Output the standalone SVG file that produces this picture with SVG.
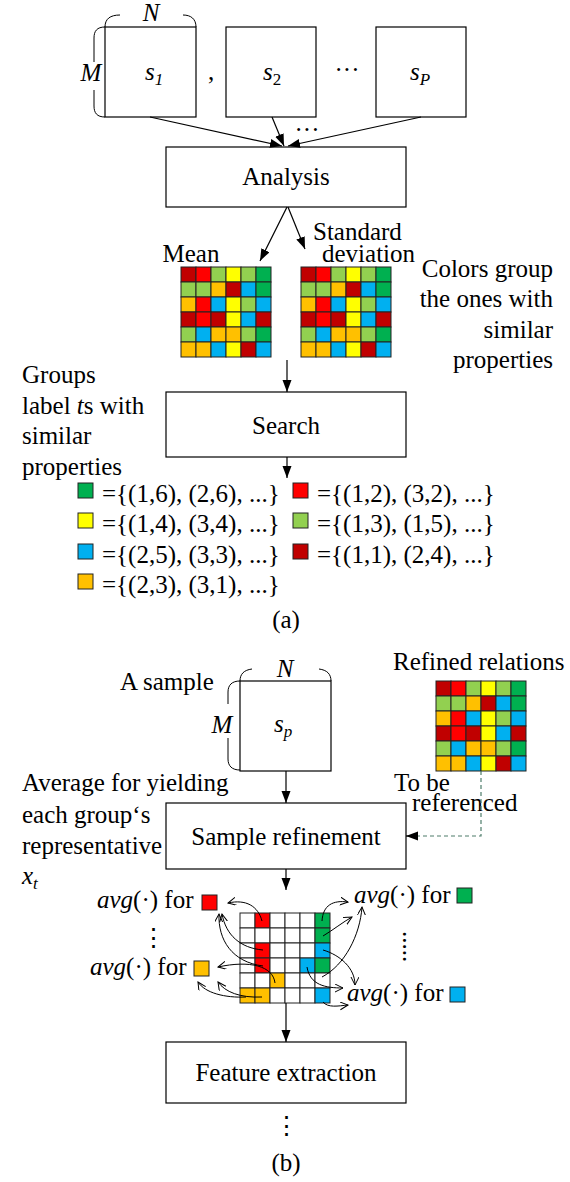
<svg xmlns="http://www.w3.org/2000/svg" xmlns:xlink="http://www.w3.org/1999/xlink" width="570" height="1182" viewBox="0 0 570 1182" font-family="'Liberation Serif', 'DejaVu Serif', serif">
<style>
text{font-family:"Liberation Serif","DejaVu Serif",serif;font-size:25px;fill:#000}
.it{font-style:italic}
.sub{font-size:17px}
.box{fill:#fff;stroke:#000;stroke-width:1.2}
.ln{fill:none;stroke:#000;stroke-width:1.2}
.cv{fill:none;stroke:#000;stroke-width:1}
.cell{stroke:#222;stroke-width:1}
.w{fill:#fff}.dr{fill:#C00000}.r{fill:#FF0000}.lg{fill:#92D050}.y{fill:#FFFF00}.g{fill:#00B050}.o{fill:#FFC000}.b{fill:#00B0F0}
.dash{fill:none;stroke:#4E7D6B;stroke-width:1.2;stroke-dasharray:4,3}
.c{text-anchor:middle}
.e{text-anchor:end}
</style>
<defs>
<marker id="ah" markerUnits="userSpaceOnUse" markerWidth="13" markerHeight="10" refX="12" refY="4.5" orient="auto"><path d="M0,0 L12,4.5 L0,9 z" fill="#000"/></marker>
<marker id="oa" markerUnits="userSpaceOnUse" markerWidth="10" markerHeight="10" refX="8" refY="4" orient="auto"><path d="M0,0 L8,4 L0,8" fill="none" stroke="#000" stroke-width="1"/></marker>
<g id="mat">
<rect class="cell dr" x="0" y="0" width="15" height="15"/><rect class="cell r" x="15" y="0" width="15" height="15"/><rect class="cell lg" x="30" y="0" width="15" height="15"/><rect class="cell y" x="45" y="0" width="15" height="15"/><rect class="cell lg" x="60" y="0" width="15" height="15"/><rect class="cell g" x="75" y="0" width="15" height="15"/>
<rect class="cell lg" x="0" y="15" width="15" height="15"/><rect class="cell lg" x="15" y="15" width="15" height="15"/><rect class="cell o" x="30" y="15" width="15" height="15"/><rect class="cell dr" x="45" y="15" width="15" height="15"/><rect class="cell b" x="60" y="15" width="15" height="15"/><rect class="cell g" x="75" y="15" width="15" height="15"/>
<rect class="cell o" x="0" y="30" width="15" height="15"/><rect class="cell r" x="15" y="30" width="15" height="15"/><rect class="cell b" x="30" y="30" width="15" height="15"/><rect class="cell y" x="45" y="30" width="15" height="15"/><rect class="cell lg" x="60" y="30" width="15" height="15"/><rect class="cell b" x="75" y="30" width="15" height="15"/>
<rect class="cell dr" x="0" y="45" width="15" height="15"/><rect class="cell r" x="15" y="45" width="15" height="15"/><rect class="cell dr" x="30" y="45" width="15" height="15"/><rect class="cell y" x="45" y="45" width="15" height="15"/><rect class="cell b" x="60" y="45" width="15" height="15"/><rect class="cell dr" x="75" y="45" width="15" height="15"/>
<rect class="cell lg" x="0" y="60" width="15" height="15"/><rect class="cell b" x="15" y="60" width="15" height="15"/><rect class="cell o" x="30" y="60" width="15" height="15"/><rect class="cell o" x="45" y="60" width="15" height="15"/><rect class="cell lg" x="60" y="60" width="15" height="15"/><rect class="cell g" x="75" y="60" width="15" height="15"/>
<rect class="cell o" x="0" y="75" width="15" height="15"/><rect class="cell o" x="15" y="75" width="15" height="15"/><rect class="cell b" x="30" y="75" width="15" height="15"/><rect class="cell y" x="45" y="75" width="15" height="15"/><rect class="cell dr" x="60" y="75" width="15" height="15"/><rect class="cell b" x="75" y="75" width="15" height="15"/>
</g>
</defs>
<rect width="570" height="1182" fill="#fff"/>

<!-- Part (a) -->
<g id="s1">
<rect class="box" x="105" y="27" width="91" height="90"/>
<path class="cv" d="M105,27 C105,19 110,15 120,15"/>
<path class="cv" d="M183,15 C191,15 196,19 196,27"/>
<path class="cv" d="M105,27 C97,27 94,31 94,38 L94,62"/>
<path class="cv" d="M94,90 L94,106 C94,113 97,117 105,117"/>
<text class="it c" x="151" y="21">N</text>
<text class="it c" x="91" y="81">M</text>
<text class="it" x="145" y="80">s<tspan class="sub" dy="5">1</tspan></text>
</g>
<text x="208" y="80">,</text>
<g id="s2">
<rect class="box" x="226" y="27" width="90" height="90"/>
<text class="it" x="263" y="80">s<tspan class="sub" font-style="normal" dy="5">2</tspan></text>
</g>
<text class="c" x="347" y="78">···</text>
<g id="sP">
<rect class="box" x="376" y="27" width="90" height="90"/>
<text class="it" x="410" y="80">s<tspan class="sub" dy="5">P</tspan></text>
</g>
<text class="c" x="307" y="138">···</text>

<g id="analysis">
<rect class="box" x="166" y="147" width="240" height="60"/>
<text class="c" x="286" y="185">Analysis</text>
</g>

<g id="mean">
<text class="c" x="191" y="262">Mean</text>
<use xlink:href="#mat" x="181" y="267"/>
</g>
<g id="std">
<text x="313" y="240">Standard</text>
<text x="322" y="262">deviation</text>
<use xlink:href="#mat" x="301" y="267"/>
</g>
<g id="colors-note">
<text class="e" x="553" y="277">Colors group</text>
<text class="e" x="553" y="307">the ones with</text>
<text class="e" x="553" y="338">similar</text>
<text class="e" x="553" y="368">properties</text>
</g>

<g id="groups-note">
<text x="22" y="383">Groups</text>
<text x="22" y="414">label <tspan class="it">t</tspan>s with</text>
<text x="22" y="444">similar</text>
<text x="22" y="475">properties</text>
</g>

<g id="search">
<rect class="box" x="166" y="392" width="240" height="65"/>
<text class="c" x="286" y="434">Search</text>
</g>

<g id="groups">
<rect class="cell g" x="78" y="483" width="15" height="15"/><text x="102" y="502">={(1,6), (2,6), ...}</text>
<rect class="cell y" x="78" y="513" width="15" height="15"/><text x="102" y="532">={(1,4), (3,4), ...}</text>
<rect class="cell b" x="78" y="544" width="15" height="15"/><text x="102" y="563">={(2,5), (3,3), ...}</text>
<rect class="cell o" x="78" y="574" width="15" height="15"/><text x="102" y="593">={(2,3), (3,1), ...}</text>
<rect class="cell r" x="293" y="483" width="15" height="15"/><text x="317" y="502">={(1,2), (3,2), ...}</text>
<rect class="cell lg" x="293" y="513" width="15" height="15"/><text x="317" y="532">={(1,3), (1,5), ...}</text>
<rect class="cell dr" x="293" y="544" width="15" height="15"/><text x="317" y="563">={(1,1), (2,4), ...}</text>
</g>
<text class="c" x="286" y="628">(a)</text>

<!-- Part (b) -->
<g id="sp">
<text x="120" y="690">A sample</text>
<rect class="box" x="240" y="681" width="91" height="90"/>
<path class="cv" d="M240,681 C240,674 244,670 252,669"/>
<path class="cv" d="M319,669 C327,670 331,674 331,681"/>
<path class="cv" d="M240,681 C232,681 228,685 228,692 L228,704"/>
<path class="cv" d="M228,738 L228,759 C228,766 232,770 240,770"/>
<text class="it c" x="285" y="677">N</text>
<text class="it c" x="222" y="733">M</text>
<text class="it" x="274" y="732">s<tspan class="sub" dy="5">p</tspan></text>
</g>

<g id="refined">
<text x="393" y="670">Refined relations</text>
<use xlink:href="#mat" x="436" y="681"/>
<text x="394" y="791">To be</text>
<text x="412" y="811">referenced</text>
</g>

<g id="avg-note">
<text x="22" y="791">Average for yielding</text>
<text x="22" y="823">each group‘s</text>
<text x="22" y="854">representative</text>
<text class="it" x="22" y="884">x<tspan class="sub" dy="5">t</tspan></text>
</g>

<g id="refinement">
<rect class="box" x="166" y="803" width="240" height="66"/>
<text class="c" x="286" y="845">Sample refinement</text>
</g>

<g id="grid">
<rect class="cell w" x="240" y="913" width="15" height="15"/><rect class="cell r" x="255" y="913" width="15" height="15"/><rect class="cell w" x="270" y="913" width="15" height="15"/><rect class="cell w" x="285" y="913" width="15" height="15"/><rect class="cell w" x="300" y="913" width="15" height="15"/><rect class="cell g" x="315" y="913" width="15" height="15"/>
<rect class="cell w" x="240" y="928" width="15" height="15"/><rect class="cell w" x="255" y="928" width="15" height="15"/><rect class="cell w" x="270" y="928" width="15" height="15"/><rect class="cell w" x="285" y="928" width="15" height="15"/><rect class="cell w" x="300" y="928" width="15" height="15"/><rect class="cell g" x="315" y="928" width="15" height="15"/>
<rect class="cell w" x="240" y="943" width="15" height="15"/><rect class="cell r" x="255" y="943" width="15" height="15"/><rect class="cell w" x="270" y="943" width="15" height="15"/><rect class="cell w" x="285" y="943" width="15" height="15"/><rect class="cell w" x="300" y="943" width="15" height="15"/><rect class="cell b" x="315" y="943" width="15" height="15"/>
<rect class="cell w" x="240" y="958" width="15" height="15"/><rect class="cell r" x="255" y="958" width="15" height="15"/><rect class="cell w" x="270" y="958" width="15" height="15"/><rect class="cell w" x="285" y="958" width="15" height="15"/><rect class="cell b" x="300" y="958" width="15" height="15"/><rect class="cell g" x="315" y="958" width="15" height="15"/>
<rect class="cell w" x="240" y="973" width="15" height="15"/><rect class="cell w" x="255" y="973" width="15" height="15"/><rect class="cell o" x="270" y="973" width="15" height="15"/><rect class="cell w" x="285" y="973" width="15" height="15"/><rect class="cell w" x="300" y="973" width="15" height="15"/><rect class="cell w" x="315" y="973" width="15" height="15"/>
<rect class="cell o" x="240" y="988" width="15" height="15"/><rect class="cell o" x="255" y="988" width="15" height="15"/><rect class="cell w" x="270" y="988" width="15" height="15"/><rect class="cell w" x="285" y="988" width="15" height="15"/><rect class="cell w" x="300" y="988" width="15" height="15"/><rect class="cell b" x="315" y="988" width="15" height="15"/>
</g>

<g id="avg-red"><text x="97" y="908"><tspan class="it">avg</tspan>(·) for</text><rect class="cell r" x="202" y="895" width="15" height="15"/></g>
<text class="c" x="153" y="946">⋮</text>
<g id="avg-orange"><text x="90" y="975"><tspan class="it">avg</tspan>(·) for</text><rect class="cell o" x="194" y="961" width="15" height="15"/></g>
<g id="avg-green"><text x="354" y="903"><tspan class="it">avg</tspan>(·) for</text><rect class="cell g" x="457" y="888" width="15" height="15"/></g>
<text x="403" y="931" transform="rotate(90 403 931)">.....</text>
<g id="avg-blue"><text x="347" y="1001"><tspan class="it">avg</tspan>(·) for</text><rect class="cell b" x="450" y="987" width="15" height="15"/></g>

<g id="feature">
<rect class="box" x="166" y="1042" width="240" height="61"/>
<text class="c" x="286" y="1081">Feature extraction</text>
</g>
<text class="c" x="286" y="1134">⋮</text>
<text class="c" x="286" y="1171">(b)</text>

<g id="connectors">
<line class="ln" x1="150" y1="117" x2="282" y2="146" marker-end="url(#ah)"/>
<line class="ln" x1="272" y1="117" x2="284" y2="146" marker-end="url(#ah)"/>
<line class="ln" x1="421" y1="117" x2="288" y2="146" marker-end="url(#ah)"/>
<line class="ln" x1="287" y1="207" x2="260" y2="261" marker-end="url(#ah)"/>
<line class="ln" x1="288" y1="207" x2="305" y2="249" marker-end="url(#ah)"/>
<line class="ln" x1="287" y1="360" x2="287" y2="392" marker-end="url(#ah)"/>
<line class="ln" x1="287" y1="457" x2="287" y2="478" marker-end="url(#ah)"/>
<line class="ln" x1="286" y1="771" x2="286" y2="803" marker-end="url(#ah)"/>
<line class="ln" x1="286" y1="869" x2="286" y2="890" marker-end="url(#ah)"/>
<line class="ln" x1="286" y1="1003" x2="286" y2="1042" marker-end="url(#ah)"/>
<path class="dash" d="M481,771 L481,836 L418,836"/>
<line class="ln" x1="418" y1="836" x2="406" y2="836" marker-end="url(#ah)"/>
<path class="cv" d="M262,921 C258,906 246,899 228,903" marker-end="url(#oa)"/>
<path class="cv" d="M263,950 C240,948 226,935 222,914" marker-end="url(#oa)"/>
<path class="cv" d="M263,966 C232,962 218,940 219,914" marker-end="url(#oa)"/>
<path class="cv" d="M275,983 C273,966 250,960 218,967" marker-end="url(#oa)"/>
<path class="cv" d="M246,997 C225,998 205,993 198,982" marker-end="url(#oa)"/>
<path class="cv" d="M262,997 C240,998 225,992 218,982" marker-end="url(#oa)"/>
<path class="cv" d="M322,921 C323,905 333,900 348,902" marker-end="url(#oa)"/>
<path class="cv" d="M323,936 C333,930 343,922 352,917" marker-end="url(#oa)"/>
<path class="cv" d="M322,977 C345,965 360,935 362,907" marker-end="url(#oa)"/>
<path class="cv" d="M323,950 C340,955 355,968 355,985" marker-end="url(#oa)"/>
<path class="cv" d="M307,967 C310,985 325,988 343,988" marker-end="url(#oa)"/>
<path class="cv" d="M323,1002 C328,1008 338,1006 348,1005" marker-end="url(#oa)"/>
</g>
</svg>
